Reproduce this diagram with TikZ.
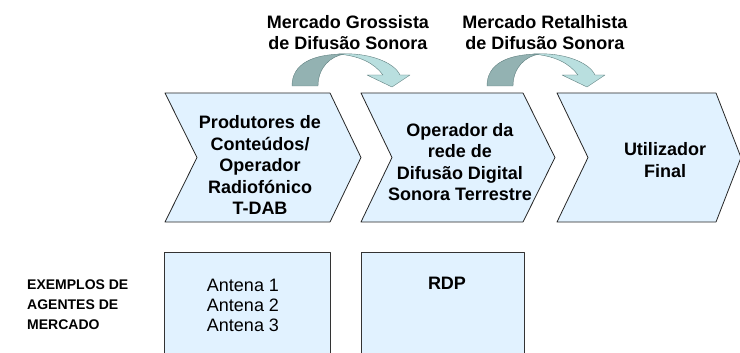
\documentclass[tikz,border=0pt]{standalone}
\usepackage{fontspec}
\setmainfont{Liberation Sans}
\definecolor{azulclaro}{HTML}{E1F2FF}
\definecolor{setaesc}{HTML}{93B2B2}
\definecolor{setaclara}{HTML}{B9DFDF}
\definecolor{setalinha}{HTML}{5F7F7F}
\tikzset{
	titulo/.style={font=\fontsize{18}{21}\selectfont\bfseries, align=center, inner sep=0pt},
	etapa/.style={font=\fontsize{18}{21.5}\selectfont\bfseries, align=center, inner sep=0pt},
	agentes/.style={font=\fontsize{14}{20}\selectfont\bfseries, align=left, inner sep=0pt},
	antenas/.style={font=\fontsize{18}{20}\selectfont, align=center, inner sep=0pt},
	chevron/.style={fill=azulclaro, draw=black!85, line width=0.8pt},
	caixa/.style={fill=azulclaro, draw=black!80, line width=0.8pt},
	setatras/.style={fill=setaesc, draw=setalinha, line width=0.4pt},
	setafrente/.style={fill=setaclara, draw=setalinha, line width=0.4pt}
}
\begin{document}
\begin{tikzpicture}[line cap=round,line join=round,x=1pt,y=-1pt]
	\useasboundingbox (0,0) rectangle (740,353);
	%%%% MERCADOS
	\node[titulo] (grossista) at (348,33) {Mercado Grossista\\de Difusão Sonora};
	\node[titulo] (retalhista) at (545,33) {Mercado Retalhista\\de Difusão Sonora};
	
	%%%% SETAS CURVAS
	\foreach \dx in {0,195}{
		\begin{scope}[xshift=\dx pt]
			\draw[setatras] (292,86) .. controls (292,64) and (312,54) .. (345,54) .. controls (330,56) and (318,68) .. (318,86) -- cycle;
			\draw[setafrente] (338,54) .. controls (368,52) and (394,62) .. (400,75) -- (410,75) -- (392,87) -- (367,75) -- (383,75) .. controls (374,63) and (360,56) .. (338,54) -- cycle;
		\end{scope}
	}
	
	%%%% CADEIA DE VALOR
	\draw[chevron] (165,93) -- (330,93) -- (361,157.5) -- (330,222) -- (165,222) -- (197,157.5) -- cycle;
	\draw[chevron] (361,93) -- (523,93) -- (555,157.5) -- (523,222) -- (361,222) -- (392,157.5) -- cycle;
	\draw[chevron] (557,93) -- (716,93) -- (741,157.5) -- (716,222) -- (557,222) -- (588,157.5) -- cycle;
	\node[etapa] (produtores) at (260,165) {Produtores de\\Conteúdos/\\Operador\\Radiofónico\\T-DAB};
	\node[etapa] (operador) at (460,162) {Operador da\\rede de\\Difusão Digital\\Sonora Terrestre};
	\node[etapa] (utilizador) at (665,160) {Utilizador\\Final};
	
	%%%% AGENTES
	\node[agentes, anchor=west] (exemplos) at (27,305) {EXEMPLOS DE\\AGENTES DE\\MERCADO};
	\draw[caixa] (164,358) -- (164,252) -- (330,252) -- (330,358);
	\node[antenas] (antenas) at (243,305) {Antena 1\\Antena 2\\Antena 3};
	\draw[caixa] (361,358) -- (361,252) -- (524,252) -- (524,358);
	\node[etapa] (rdp) at (447,283) {RDP};
\end{tikzpicture}
\end{document}
